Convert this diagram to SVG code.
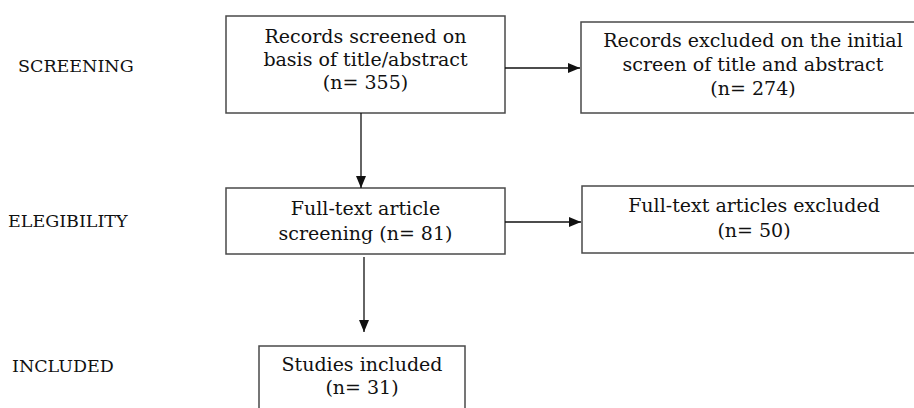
<svg xmlns="http://www.w3.org/2000/svg" width="914" height="408" viewBox="0 0 914 408">
  <style>
    .box { fill: #ffffff; stroke: #4a4a4a; stroke-width: 1.5; }
    .t { font-family: "DejaVu Serif", "Liberation Serif", serif; font-size: 19px; fill: #111; text-anchor: middle; }
    .lab { font-family: "DejaVu Serif", "Liberation Serif", serif; font-size: 17.5px; fill: #111; }
    .conn { stroke: #111; stroke-width: 1.3; fill: none; marker-end: url(#ah); }
  </style>
  <defs>
    <marker id="ah" markerWidth="12" markerHeight="10" refX="12" refY="5" orient="auto" markerUnits="userSpaceOnUse">
      <path d="M0,0 L12,5 L0,10 Z" fill="#111"/>
    </marker>
  </defs>
  <rect width="914" height="408" fill="#ffffff"/>

  <g id="stage-labels">
    <text class="lab" x="18" y="72">SCREENING</text>
    <text class="lab" x="8" y="227">ELEGIBILITY</text>
    <text class="lab" x="12" y="372">INCLUDED</text>
  </g>

  <g id="node-screened">
    <rect class="box" x="226" y="16" width="279" height="97"/>
    <text class="t" x="365.5" y="43">Records screened on</text>
    <text class="t" x="365.5" y="66">basis of title/abstract</text>
    <text class="t" x="365.5" y="89">(n= 355)</text>
  </g>

  <g id="node-excluded-initial">
    <rect class="box" x="581" y="22" width="360" height="91"/>
    <text class="t" x="753" y="47">Records excluded on the initial</text>
    <text class="t" x="753" y="71">screen of title and abstract</text>
    <text class="t" x="753" y="95">(n= 274)</text>
  </g>

  <g id="node-fulltext">
    <rect class="box" x="226" y="188" width="279" height="66"/>
    <text class="t" x="365.5" y="215">Full-text article</text>
    <text class="t" x="365.5" y="240">screening (n= 81)</text>
  </g>

  <g id="node-fulltext-excluded">
    <rect class="box" x="582" y="186" width="360" height="67"/>
    <text class="t" x="754" y="212">Full-text articles excluded</text>
    <text class="t" x="754" y="237">(n= 50)</text>
  </g>

  <g id="node-included">
    <rect class="box" x="259" y="346" width="206" height="80"/>
    <text class="t" x="362" y="371">Studies included</text>
    <text class="t" x="362" y="394">(n= 31)</text>
  </g>

  <g id="connectors">
    <line class="conn" x1="505" y1="68" x2="580" y2="68"/>
    <line class="conn" x1="361" y1="113" x2="361" y2="188"/>
    <line class="conn" x1="505" y1="222" x2="581" y2="222"/>
    <line class="conn" x1="364" y1="257" x2="364" y2="332"/>
  </g>
</svg>
